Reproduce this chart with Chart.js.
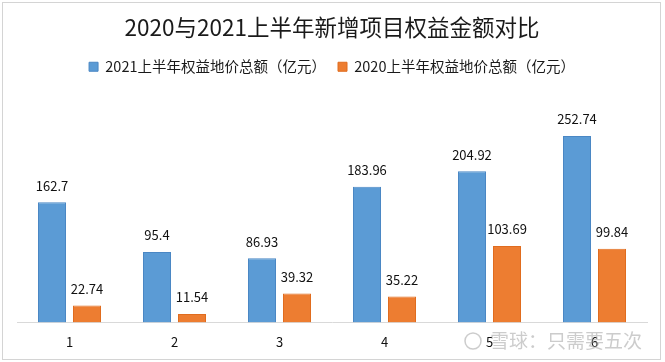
<!DOCTYPE html>
<html>
<head>
<meta charset="utf-8">
<script src="https://cdn.jsdelivr.net/npm/chart.js@4.4.1/dist/chart.umd.min.js"></script>
<style>
  html, body { margin: 0; padding: 0; background: #fff; }
  #wrap { position: relative; width: 665px; height: 362px; }
</style>
</head>
<body>
<div id="wrap"><canvas id="chart"></canvas></div>
<script>
// 数据
const categories = ['1', '2', '3', '4', '5', '6'];
const values2021 = [162.7, 95.4, 86.93, 183.96, 204.92, 252.74];
const values2020 = [22.74, 11.54, 39.32, 35.22, 103.69, 99.84];
const seriesNames = ['2021上半年权益地价总额（亿元）', '2020上半年权益地价总额（亿元）'];
const titleText = '2020与2021上半年新增项目权益金额对比';
const watermarkText = '雪球：只需要五次';

const FONT = '"Noto Sans CJK SC", "Noto Sans", sans-serif';

// 背景与外框
const framePlugin = {
  id: 'frame',
  beforeDraw(chart) {
    const ctx = chart.ctx;
    ctx.save();
    ctx.fillStyle = '#fff';
    ctx.fillRect(0, 0, chart.width, chart.height);
    ctx.strokeStyle = '#d4d4d4';
    ctx.lineWidth = 1;
    ctx.strokeRect(2.5, 2.5, 658, 357);
    ctx.restore();
  },
};

// 柱顶数值
const barLabelPlugin = {
  id: 'barLabels',
  afterDatasetsDraw(chart) {
    const ctx = chart.ctx;
    ctx.save();
    ctx.font = '13px ' + FONT;
    ctx.fillStyle = '#111';
    ctx.textAlign = 'center';
    ctx.textBaseline = 'bottom';
    chart.data.datasets.forEach((ds, i) => {
      chart.getDatasetMeta(i).data.forEach((bar, j) => {
        ctx.fillText(String(ds.data[j]), bar.x, bar.y - 10);
      });
    });
    ctx.restore();
  },
};

// 图例下方留白
const legendGapPlugin = {
  id: 'legendGap',
  beforeInit(chart) {
    const fit = chart.legend.fit;
    chart.legend.fit = function () {
      fit.bind(chart.legend)();
      this.height += 17;
    };
  },
};

// 水印
const watermarkPlugin = {
  id: 'watermark',
  afterDraw(chart) {
    const ctx = chart.ctx;
    ctx.save();
    ctx.globalAlpha = 0.5;
    ctx.strokeStyle = '#999';
    ctx.lineWidth = 1.5;
    ctx.beginPath();
    ctx.arc(473, 341, 8, 0, Math.PI * 2);
    ctx.stroke();
    ctx.font = '19px ' + FONT;
    ctx.fillStyle = '#999';
    ctx.textAlign = 'left';
    ctx.textBaseline = 'middle';
    ctx.fillText(watermarkText, 490, 341);
    ctx.restore();
  },
};

new Chart(document.getElementById('chart').getContext('2d'), {
  type: 'bar',
  data: {
    labels: categories,
    datasets: [
      {
        label: seriesNames[0],
        data: values2021,
        backgroundColor: '#5b9bd5',
        borderColor: '#4a87c4',
        borderWidth: 1,
        categoryPercentage: 0.667,
        barPercentage: 0.8,
      },
      {
        label: seriesNames[1],
        data: values2020,
        backgroundColor: '#ed7d31',
        borderColor: '#e06c1f',
        borderWidth: 1,
        categoryPercentage: 0.667,
        barPercentage: 0.8,
      },
    ],
  },
  options: {
    responsive: true,
    maintainAspectRatio: false,
    animation: false,
    layout: { padding: { top: 4, left: 17, right: 18, bottom: 8 } },
    plugins: {
      title: {
        display: true,
        text: titleText,
        color: '#1a1a1a',
        font: { family: FONT, size: 22.5, weight: 'normal' },
        padding: { top: 9.5, bottom: 7 },
      },
      legend: {
        display: true,
        position: 'top',
        labels: {
          boxWidth: 9,
          boxHeight: 9,
          padding: 12,
          color: '#1a1a1a',
          font: { family: FONT, size: 14.5 },
        },
      },
      tooltip: { enabled: false },
    },
    scales: {
      x: {
        grid: { display: false },
        border: { color: '#d9d9d9' },
        ticks: { color: '#111', font: { family: FONT, size: 13 }, padding: 4 },
      },
      y: {
        display: false,
        min: 0,
        max: 300,
      },
    },
  },
  plugins: [framePlugin, legendGapPlugin, barLabelPlugin, watermarkPlugin],
});
</script>
</body>
</html>
